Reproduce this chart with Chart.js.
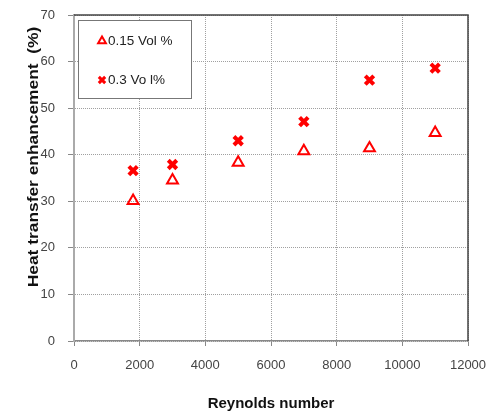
<!DOCTYPE html>
<html>
<head>
<meta charset="utf-8">
<script src="https://cdn.jsdelivr.net/npm/chart.js@4.4.1/dist/chart.umd.min.js"></script>
<style>
  html, body { margin: 0; padding: 0; background: #fff; }
  #wrap { width: 488px; height: 414px; }
</style>
</head>
<body>
<div id="wrap"><canvas id="chart" width="488" height="414"></canvas></div>
<script>
// values
const reynolds = [1800, 3000, 5000, 7000, 9000, 11000];
const vol015 = [30.1, 34.5, 38.3, 40.8, 41.4, 44.7];
const vol03 = [36.6, 37.9, 43.0, 47.1, 56.0, 58.6];
const seriesNames = ['0.15 Vol %', '0.3 Vo l%'];
const yTitle = 'Heat transfer enhancement  (%)';

const tickFont = { family: '"Liberation Sans", Arial, sans-serif', size: 13 };
const titleFont = { family: '"Liberation Sans", Arial, sans-serif', size: 15, weight: 'bold' };

// frame on top/right of plot, legend box inside the plot, stretched y title
const framePlugin = {
  id: 'frame',
  afterDatasetsDraw(chart) {
    const { ctx, chartArea: a } = chart;
    ctx.save();
    ctx.strokeStyle = '#444';
    ctx.lineWidth = 1.5;
    ctx.beginPath();
    ctx.moveTo(a.left, a.top);
    ctx.lineTo(a.right, a.top);
    ctx.lineTo(a.right, a.bottom);
    ctx.stroke();

    // legend
    const bx = a.left + 4, by = a.top + 5, bw = 113, bh = 78;
    ctx.fillStyle = '#fff';
    ctx.fillRect(bx, by, bw, bh);
    ctx.strokeStyle = '#777';
    ctx.lineWidth = 1;
    ctx.strokeRect(bx + 0.5, by + 0.5, bw, bh);
    ctx.font = '13.5px "Liberation Sans", Arial, sans-serif';
    ctx.textBaseline = 'middle';
    chart.data.datasets.forEach((ds, i) => {
      const y = by + 21 + i * 39;
      const isCross = ds.pointStyle === 'crossRot';
      ctx.strokeStyle = ds.borderColor;
      ctx.fillStyle = 'rgba(0,0,0,0)';
      ctx.lineWidth = isCross ? 3 : 2;
      Chart.helpers.drawPoint(ctx, { pointStyle: ds.pointStyle, radius: 4.5, rotation: 0, borderWidth: ctx.lineWidth }, bx + 24, y);
      ctx.fillStyle = '#222';
      ctx.fillText(ds.label, bx + 30, y);
    });

    // y axis title (the original is a bit stretched vertically)
    ctx.translate(34, 157);
    ctx.rotate(-Math.PI / 2);
    ctx.scale(1.24, 1);
    ctx.font = 'bold 14px "Liberation Sans", Arial, sans-serif';
    ctx.textAlign = 'center';
    ctx.textBaseline = 'middle';
    ctx.fillStyle = '#111';
    ctx.fillText(yTitle, 0, 0);
    ctx.restore();
  }
};

new Chart(document.getElementById('chart'), {
  type: 'scatter',
  data: {
    datasets: [
      {
        label: seriesNames[0],
        data: reynolds.map((x, i) => ({ x: x, y: vol015[i] })),
        pointStyle: 'triangle',
        pointRadius: 6.3,
        pointBorderWidth: 2,
        borderColor: '#ff0000',
        backgroundColor: 'rgba(0,0,0,0)'
      },
      {
        label: seriesNames[1],
        data: reynolds.map((x, i) => ({ x: x, y: vol03[i] })),
        pointStyle: 'crossRot',
        pointRadius: 6,
        pointBorderWidth: 4,
        borderColor: '#ff0000',
        backgroundColor: '#ff0000'
      }
    ]
  },
  options: {
    responsive: false,
    animation: false,
    layout: { padding: { top: 15, right: 20, left: 0, bottom: 0 } },
    plugins: {
      legend: { display: false },
      tooltip: { enabled: false }
    },
    scales: {
      x: {
        type: 'linear',
        min: 0,
        max: 12000,
        ticks: { stepSize: 2000, font: tickFont, color: '#444', padding: 12, maxRotation: 0, callback: v => String(v) },
        grid: { color: '#a0a0a0', tickLength: 5, tickColor: '#888', tickBorderDash: [] },
        border: { color: '#888', width: 1.5, dash: [1, 1] },
        title: { display: true, text: 'Reynolds number', font: titleFont, color: '#111', padding: { top: 0, bottom: 1 } },
        afterFit(scale) {
          scale.height = 73;
          scale.paddingLeft = 0;
          scale.paddingRight = 0;
        }
      },
      y: {
        min: 0,
        max: 70,
        ticks: { stepSize: 10, font: tickFont, color: '#444', padding: 13, callback: v => String(v) },
        grid: { color: '#a0a0a0', tickLength: 6, tickColor: '#888', tickBorderDash: [] },
        border: { color: '#aaa', width: 2, dash: [1, 1] },
        title: { display: false },
        afterFit(scale) {
          scale.width = 74;
          scale.paddingTop = 0;
          scale.paddingBottom = 0;
        }
      }
    }
  },
  plugins: [framePlugin]
});
</script>
</body>
</html>
